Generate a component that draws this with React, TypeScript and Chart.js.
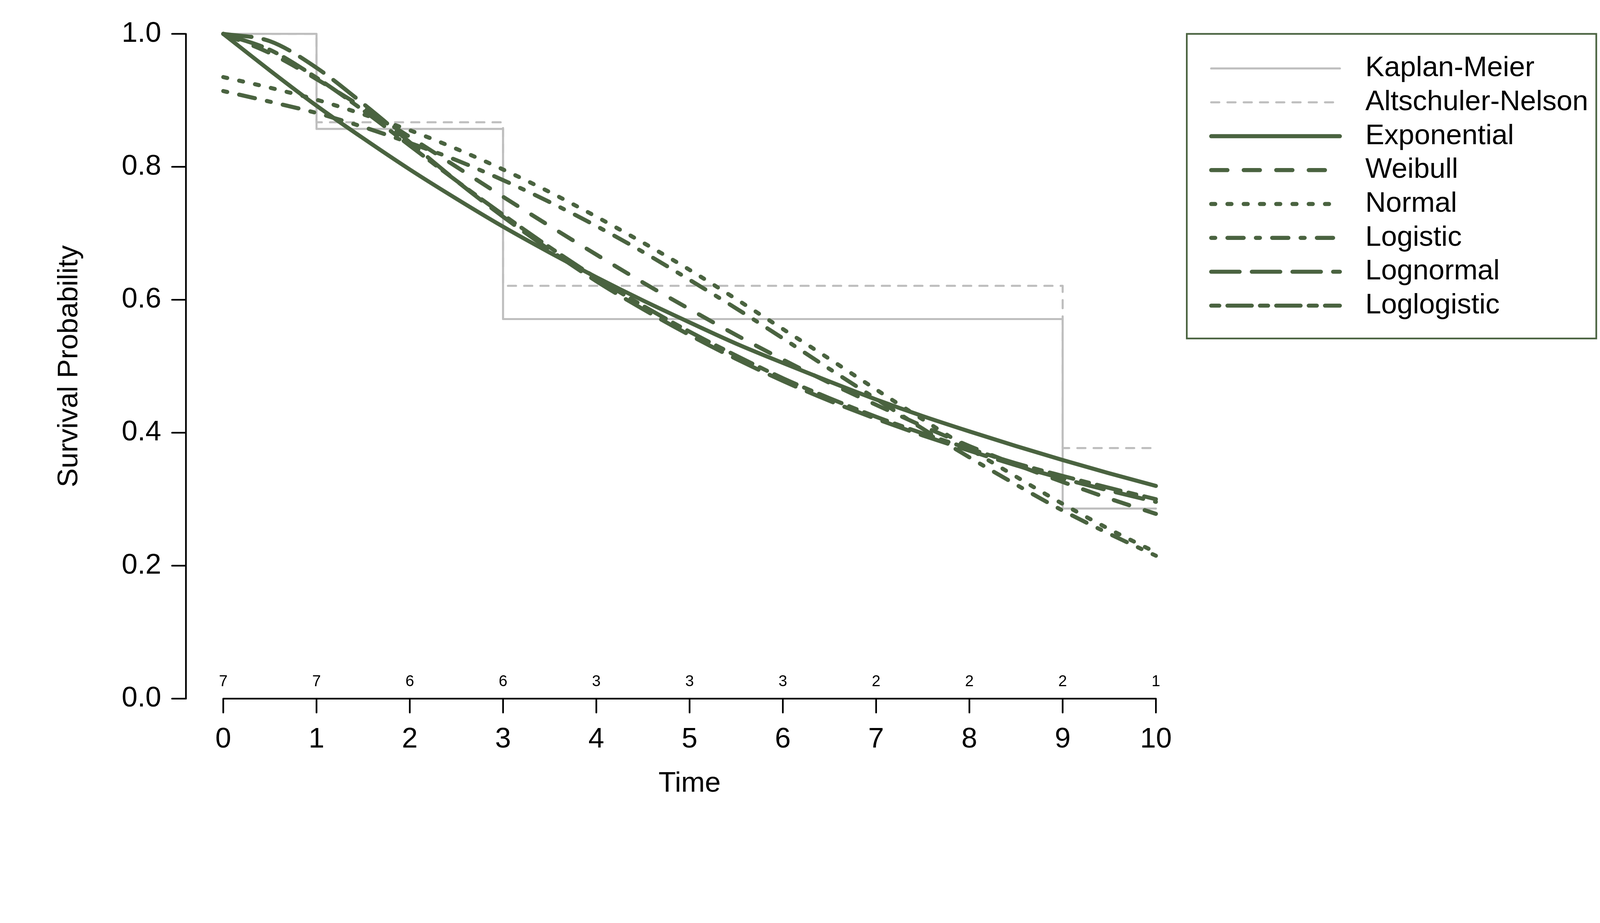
import React, { useEffect, useRef } from "react";
import { Chart, registerables, Plugin } from "chart.js";

Chart.register(...registerables);

// time grid the fitted curves were read at
const TIMES = [0, 0.5, 1, 1.5, 2, 2.5, 3, 3.5, 4, 4.5, 5, 5.5, 6, 6.5, 7, 7.5, 8, 8.5, 9, 9.5, 10];

// parametric fits
const EXPONENTIAL = [1.0, 0.945, 0.892, 0.843, 0.796, 0.752, 0.71, 0.671, 0.634, 0.599, 0.566, 0.534, 0.505, 0.477, 0.45, 0.425, 0.402, 0.38, 0.359, 0.339, 0.32];
const WEIBULL = [1.0, 0.971, 0.932, 0.889, 0.845, 0.8, 0.755, 0.711, 0.668, 0.626, 0.586, 0.547, 0.51, 0.475, 0.442, 0.41, 0.38, 0.352, 0.326, 0.301, 0.278];
const NORMAL = [0.935, 0.919, 0.901, 0.879, 0.855, 0.827, 0.796, 0.762, 0.725, 0.686, 0.645, 0.601, 0.556, 0.511, 0.465, 0.42, 0.376, 0.334, 0.293, 0.255, 0.22];
const LOGISTIC = [0.914, 0.898, 0.881, 0.86, 0.836, 0.81, 0.78, 0.747, 0.711, 0.672, 0.63, 0.587, 0.542, 0.496, 0.451, 0.406, 0.363, 0.322, 0.283, 0.248, 0.215];
const LOGNORMAL = [1.0, 0.989, 0.949, 0.895, 0.837, 0.779, 0.725, 0.675, 0.628, 0.586, 0.547, 0.511, 0.478, 0.448, 0.421, 0.396, 0.373, 0.351, 0.331, 0.313, 0.296];
const LOGLOGISTIC = [1.0, 0.976, 0.934, 0.885, 0.832, 0.779, 0.728, 0.679, 0.633, 0.591, 0.552, 0.516, 0.482, 0.452, 0.424, 0.399, 0.376, 0.354, 0.335, 0.317, 0.3];

// nonparametric step estimates
const STEP_TIMES = [0, 1, 3, 9, 10];
const KAPLAN_MEIER = [1.0, 0.857, 0.571, 0.286, 0.286];
const ALTSCHULER_NELSON = [1.0, 0.867, 0.621, 0.377, 0.377];

// axes and number at risk
const X_TICKS = [0, 1, 2, 3, 4, 5, 6, 7, 8, 9, 10];
const Y_TICKS = [0, 0.2, 0.4, 0.6, 0.8, 1.0];
const AT_RISK = [7, 7, 6, 6, 3, 3, 3, 2, 2, 2, 1];

const W = 4724;
const H = 2362;
const GREEN = "#4a6340";
const GRAY = "#bebebe";
const FONT = '"Liberation Sans", Arial, Helvetica, sans-serif';

const toPoints = (xs: number[], ys: number[]) => xs.map((x, i) => ({ x, y: ys[i] }));

const rAxesPlugin: Plugin<"line"> = {
  id: "rAxes",
  afterDatasetsDraw(chart) {
    const { ctx, chartArea, scales } = chart;
    const xs = scales.x;
    const ys = scales.y;
    ctx.save();
    ctx.strokeStyle = "#000";
    ctx.fillStyle = "#000";
    ctx.lineWidth = 5;
    ctx.lineCap = "round";
    ctx.setLineDash([]);

    // y axis
    const ax = chartArea.left;
    ctx.beginPath();
    ctx.moveTo(ax, ys.getPixelForValue(Y_TICKS[0]));
    ctx.lineTo(ax, ys.getPixelForValue(Y_TICKS[Y_TICKS.length - 1]));
    Y_TICKS.forEach((v) => {
      const py = ys.getPixelForValue(v);
      ctx.moveTo(ax, py);
      ctx.lineTo(ax - 41, py);
    });
    ctx.stroke();

    // x axis
    const ay = ys.getPixelForValue(0);
    ctx.beginPath();
    ctx.moveTo(xs.getPixelForValue(X_TICKS[0]), ay);
    ctx.lineTo(xs.getPixelForValue(X_TICKS[X_TICKS.length - 1]), ay);
    X_TICKS.forEach((v) => {
      const px = xs.getPixelForValue(v);
      ctx.moveTo(px, ay);
      ctx.lineTo(px, ay + 41);
    });
    ctx.stroke();

    ctx.font = `84px ${FONT}`;
    ctx.textBaseline = "middle";
    ctx.textAlign = "right";
    Y_TICKS.forEach((v) => {
      ctx.fillText(v.toFixed(1), ax - 73, ys.getPixelForValue(v));
    });
    ctx.textAlign = "center";
    X_TICKS.forEach((v) => {
      ctx.fillText(String(v), xs.getPixelForValue(v), ay + 121);
    });

    // titles
    ctx.fillText("Time", (chartArea.left + chartArea.right) / 2, ay + 252);
    ctx.save();
    ctx.translate(205, (chartArea.top + chartArea.bottom) / 2);
    ctx.rotate(-Math.PI / 2);
    ctx.fillText("Survival Probability", 0, 0);
    ctx.restore();

    // number at risk
    ctx.font = `46px ${FONT}`;
    X_TICKS.forEach((v, i) => {
      ctx.fillText(String(AT_RISK[i]), xs.getPixelForValue(v), ay - 49);
    });

    // legend
    const box = { left: 3504, top: 100, right: 4713, bottom: 999 };
    ctx.strokeStyle = GREEN;
    ctx.lineWidth = 5;
    ctx.lineCap = "butt";
    ctx.strokeRect(box.left, box.top, box.right - box.left, box.bottom - box.top);
    ctx.font = `84px ${FONT}`;
    ctx.textAlign = "left";
    ctx.fillStyle = "#000";
    chart.data.datasets.forEach((ds: any, i: number) => {
      const y = 202 + i * 100;
      ctx.beginPath();
      ctx.strokeStyle = ds.borderColor;
      ctx.lineWidth = ds.borderWidth;
      ctx.lineCap = "round";
      ctx.setLineDash(ds.borderDash || []);
      ctx.moveTo(3576, y);
      ctx.lineTo(3956, y);
      ctx.stroke();
      ctx.setLineDash([]);
      ctx.fillText(ds.label, 4031, y);
    });
    ctx.restore();
  },
};

const curve = (label: string, values: number[], dash: number[]) => ({
  label,
  data: toPoints(TIMES, values),
  borderColor: GREEN,
  borderWidth: 12,
  borderDash: dash,
  borderCapStyle: "round" as const,
  borderJoinStyle: "round" as const,
  cubicInterpolationMode: "monotone" as const,
  pointRadius: 0,
  fill: false,
  clip: false as const,
  order: 0,
});

const step = (label: string, values: number[], dash: number[]) => ({
  label,
  data: toPoints(STEP_TIMES, values),
  borderColor: GRAY,
  borderWidth: 6,
  borderDash: dash,
  borderCapStyle: "round" as const,
  borderJoinStyle: "round" as const,
  stepped: "before" as const,
  pointRadius: 0,
  fill: false,
  clip: false as const,
  order: 1,
});

const App: React.FC = () => {
  const canvasRef = useRef<HTMLCanvasElement | null>(null);
  // the page may not be 4724 css px wide; draw in reference pixels and scale
  const scale = typeof window !== "undefined" ? window.innerWidth / W : 1;

  useEffect(() => {
    document.documentElement.style.overflow = "hidden";
    document.body.style.margin = "0";
    document.body.style.overflow = "hidden";
    if (!canvasRef.current) return;
    const chart = new Chart(canvasRef.current, {
      type: "line",
      data: {
        datasets: [
          step("Kaplan-Meier", KAPLAN_MEIER, []),
          step("Altschuler-Nelson", ALTSCHULER_NELSON, [24, 24]),
          curve("Exponential", EXPONENTIAL, []),
          curve("Weibull", WEIBULL, [48, 48]),
          curve("Normal", NORMAL, [12, 36]),
          curve("Logistic", LOGISTIC, [12, 36, 48, 36]),
          curve("Lognormal", LOGNORMAL, [84, 36]),
          curve("Loglogistic", LOGLOGISTIC, [24, 24, 72, 24]),
        ],
      },
      options: {
        responsive: false,
        animation: false,
        devicePixelRatio: (window.devicePixelRatio || 1) * scale,
        layout: { padding: { left: 549, right: 1201, top: 100, bottom: 300 } },
        scales: {
          x: { type: "linear", min: -0.4, max: 10.4, display: false },
          y: { type: "linear", min: 0, max: 1, display: false },
        },
        plugins: {
          legend: { display: false },
          tooltip: { enabled: false },
        },
      },
      plugins: [rAxesPlugin],
    });
    return () => chart.destroy();
  }, [scale]);

  return (
    <div style={{ position: "fixed", left: 0, top: 0, width: "100vw", height: "100vh", overflow: "hidden", background: "#fff" }}>
      <div style={{ width: W, height: H, transform: `scale(${scale})`, transformOrigin: "0 0" }}>
        <canvas ref={canvasRef} width={W} height={H} style={{ display: "block" }} />
      </div>
    </div>
  );
};

export default App;
